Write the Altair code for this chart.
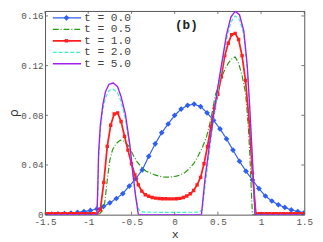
import altair as alt
import pandas as pd

# ---------------- data ----------------
series = ["t = 0.0", "t = 0.5", "t = 1.0", "t = 2.0", "t = 5.0"]
colors = ["#2f5ff0", "#2a9a10", "#ff1f1f", "#3ff0c4", "#a020f0"]
dashes = [[1, 0], [6, 2, 1, 2], [1, 0], [4, 2], [1, 0]]
widths = [1.2, 1.2, 1.8, 1.2, 1.4]

x_ticks = [-1.5, -1, -0.5, 0, 0.5, 1, 1.5]
y_ticks = [0, 0.04, 0.08, 0.12, 0.16]

blue_x = [-1.5, -1.425, -1.35, -1.275, -1.2, -1.125, -1.05, -0.975, -0.9, -0.825,
          -0.75, -0.675, -0.6, -0.525, -0.45, -0.375, -0.3, -0.225, -0.15, -0.075,
          0.0, 0.075, 0.15, 0.225, 0.3, 0.375, 0.45, 0.525, 0.6, 0.675,
          0.75, 0.825, 0.9, 0.975, 1.05, 1.125, 1.2, 1.275, 1.35, 1.425, 1.5]
blue_y = [0.0003, 0.0004, 0.0006, 0.0009, 0.0013, 0.0018, 0.0025, 0.0034, 0.0046, 0.0065,
          0.0095, 0.013, 0.017, 0.023, 0.029, 0.036, 0.047, 0.057, 0.066, 0.073,
          0.080, 0.085, 0.088, 0.089, 0.087, 0.082, 0.076, 0.069, 0.061, 0.052,
          0.043, 0.035, 0.028, 0.021, 0.015, 0.011, 0.008, 0.0058, 0.0038, 0.0025, 0.0017]

green_x = [-1.5, -0.9, -0.87, -0.84, -0.81, -0.78, -0.75, -0.72, -0.68, -0.63,
           -0.58, -0.53, -0.48, -0.43, -0.38, -0.33, -0.28, -0.23, -0.18, -0.13,
           -0.08, -0.03, 0.02, 0.07, 0.12, 0.17, 0.22, 0.27, 0.32, 0.37,
           0.42, 0.47, 0.52, 0.57, 0.62, 0.67, 0.70, 0.74, 0.78, 0.82,
           0.85, 0.87, 0.89, 0.90, 1.5]
green_y = [0, 0, 0.0005, 0.003, 0.009, 0.028, 0.044, 0.052, 0.057, 0.060,
           0.059, 0.055, 0.048, 0.042, 0.038, 0.035, 0.0335, 0.032, 0.031, 0.0303,
           0.0302, 0.0305, 0.031, 0.032, 0.034, 0.037, 0.041, 0.047, 0.054, 0.063,
           0.077, 0.096, 0.107, 0.115, 0.122, 0.126, 0.127, 0.122, 0.112, 0.098,
           0.074, 0.048, 0.015, 0, 0]

red_x = [-1.50, -1.46, -1.42, -1.38, -1.34, -1.30, -1.26, -1.22, -1.18, -1.14,
         -1.10, -1.06, -1.02, -0.98, -0.94, -0.90, -0.86, -0.82, -0.78, -0.74,
         -0.70, -0.66, -0.62, -0.58, -0.54, -0.50, -0.46, -0.42, -0.38, -0.34,
         -0.30, -0.26, -0.22, -0.18, -0.14, -0.10, -0.06, -0.02, 0.02, 0.06,
         0.10, 0.14, 0.18, 0.22, 0.26, 0.30, 0.34, 0.38, 0.42, 0.46,
         0.50, 0.54, 0.58, 0.62, 0.66, 0.70, 0.74, 0.78, 0.82, 0.86,
         0.90, 0.94, 0.98, 1.02, 1.06, 1.10, 1.14, 1.18, 1.22, 1.26,
         1.30, 1.34, 1.38, 1.42, 1.46, 1.50]
red_y = [0.0007, 0.0007, 0.0007, 0.0007, 0.0007, 0.0007, 0.0007, 0.0007, 0.0007, 0.0007,
         0.0007, 0.0007, 0.0007, 0.0007, 0.0007, 0.0007, 0.004, 0.026, 0.055, 0.072,
         0.081, 0.082, 0.075, 0.063, 0.052, 0.041, 0.032, 0.024, 0.019, 0.016,
         0.0148, 0.0138, 0.0133, 0.0130, 0.0128, 0.0128, 0.0127, 0.0127, 0.0128, 0.0131,
         0.0138, 0.0150, 0.0168, 0.0195, 0.024, 0.030, 0.041, 0.055, 0.071, 0.086,
         0.097, 0.111, 0.128, 0.138, 0.145, 0.146, 0.141, 0.128, 0.108, 0.077,
         0.034, 0.0007, 0.0007, 0.0007, 0.0007, 0.0007, 0.0007, 0.0007, 0.0007, 0.0007,
         0.0007, 0.0007, 0.0007, 0.0007, 0.0007, 0.0007]

aqua_x = [-1.5, -0.90, -0.89, -0.88, -0.86, -0.83, -0.80, -0.76, -0.71, -0.66,
          -0.62, -0.57, -0.52, -0.48, -0.45, -0.42, -0.39, -0.35, 0.0, 0.28,
          0.32, 0.35, 0.40, 0.45, 0.50, 0.55, 0.60, 0.65, 0.70, 0.75,
          0.80, 0.84, 0.87, 0.90, 0.92, 0.93, 1.5]
aqua_y = [0, 0, 0.015, 0.045, 0.068, 0.085, 0.094, 0.100, 0.101, 0.098,
          0.091, 0.077, 0.055, 0.030, 0.014, 0.005, 0.0025, 0.002, 0.0018, 0.002,
          0.004, 0.022, 0.050, 0.076, 0.099, 0.121, 0.141, 0.155, 0.160, 0.157,
          0.145, 0.118, 0.083, 0.043, 0.012, 0, 0]

purple_x = [-1.5, -0.90, -0.89, -0.88, -0.86, -0.83, -0.80, -0.76, -0.71, -0.66,
            -0.62, -0.57, -0.52, -0.48, -0.45, -0.42, 0.31, 0.35, 0.40, 0.45,
            0.50, 0.55, 0.60, 0.65, 0.70, 0.75, 0.80, 0.84, 0.87, 0.90,
            0.92, 0.93, 1.5]
purple_y = [0, 0, 0.02, 0.05, 0.072, 0.089, 0.099, 0.105, 0.106, 0.103,
            0.095, 0.081, 0.057, 0.031, 0.014, 0, 0, 0.028, 0.055, 0.080,
            0.103, 0.124, 0.145, 0.159, 0.1637, 0.161, 0.148, 0.120, 0.085, 0.045,
            0.015, 0, 0]

curves = [(blue_x, blue_y), (green_x, green_y), (red_x, red_y), (aqua_x, aqua_y), (purple_x, purple_y)]

# ---------------- chart ----------------
W, H = 266, 209
FONT = "Liberation Mono"

xscale = alt.Scale(domain=[-1.5, 1.5], nice=False, zero=False)
yscale = alt.Scale(domain=[0, 0.164], nice=False, zero=False)

xenc = alt.X("x:Q", scale=xscale,
             axis=alt.Axis(values=x_ticks, title="x", labelExpr="'' + datum.value",
                           labelPadding=2, titlePadding=3, titleFontSize=12,
                           labelFlush=False))
yenc = alt.Y("y:Q", scale=yscale,
             axis=alt.Axis(values=y_ticks, title="ρ", labelExpr="'' + datum.value",
                           labelPadding=2, titlePadding=0, titleFontSize=13,
                           titleFont="DejaVu Sans", labelFlush=False))

layers = []
for i, (xs, ys) in enumerate(curves):
    df = pd.DataFrame({"x": xs, "y": ys})
    line = alt.Chart(df).mark_line(color=colors[i], strokeDash=dashes[i],
                                   strokeWidth=widths[i], clip=True).encode(x=xenc, y=yenc)
    layers.append(line)
    if i == 0:
        layers.append(alt.Chart(df).mark_point(shape="diamond", filled=True, size=34,
                                               color=colors[i], opacity=1, clip=True)
                      .encode(x=xenc, y=yenc))
    if i == 2:
        layers.append(alt.Chart(df).mark_point(shape="square", filled=True, size=12,
                                               color=colors[i], opacity=1, clip=True)
                      .encode(x=xenc, y=yenc))

# inward ticks on all four sides
xt = pd.DataFrame({"x": x_ticks})
yt = pd.DataFrame({"y": y_ticks})
tick_col = "#555555"
layers.append(alt.Chart(xt).mark_rule(color=tick_col, strokeWidth=0.8)
              .encode(x="x:Q", y=alt.value(H), y2=alt.value(H - 3)))
layers.append(alt.Chart(xt).mark_rule(color=tick_col, strokeWidth=0.8)
              .encode(x="x:Q", y=alt.value(0), y2=alt.value(3)))
layers.append(alt.Chart(yt).mark_rule(color=tick_col, strokeWidth=0.8)
              .encode(y="y:Q", x=alt.value(0), x2=alt.value(3)))
layers.append(alt.Chart(yt).mark_rule(color=tick_col, strokeWidth=0.8)
              .encode(y="y:Q", x=alt.value(W), x2=alt.value(W - 3)))

# manual legend
one = pd.DataFrame({"a": [0]})
for i, name in enumerate(series):
    ly = 7 + i * 11.8
    layers.append(alt.Chart(one).mark_rule(color=colors[i], strokeDash=dashes[i],
                                           strokeWidth=widths[i])
                  .encode(x=alt.value(8), x2=alt.value(37), y=alt.value(ly)))
    if i == 0:
        layers.append(alt.Chart(one).mark_point(shape="diamond", filled=True, size=34,
                                                color=colors[i], opacity=1)
                      .encode(x=alt.value(22), y=alt.value(ly)))
    if i == 2:
        layers.append(alt.Chart(one).mark_point(shape="square", filled=True, size=12,
                                                color=colors[i], opacity=1)
                      .encode(x=alt.value(22), y=alt.value(ly)))
    layers.append(alt.Chart(one).mark_text(text=name, align="left", baseline="middle",
                                           font=FONT, fontSize=11.5, color="#444444")
                  .encode(x=alt.value(40), y=alt.value(ly)))

layers.append(alt.Chart(one).mark_text(text="(b)", align="center", baseline="middle",
                                       font=FONT, fontSize=13, fontWeight="bold",
                                       color="#222222")
              .encode(x=alt.value(145), y=alt.value(14)))

chart = alt.layer(*layers).properties(
    width=W, height=H,
    autosize=alt.AutoSizeParams(type="none"),
    padding={"left": 38, "top": 0, "right": 11, "bottom": 25},
).configure_view(stroke="#555555", strokeWidth=1).configure_axis(
    labelFont=FONT, titleFont=FONT, labelFontSize=9.5, labelColor="#555555",
    titleColor="#333333", titleFontWeight="normal", grid=False, domain=False, ticks=False,
)

chart.save("out.html", embed_options={"renderer": "svg", "actions": False})
